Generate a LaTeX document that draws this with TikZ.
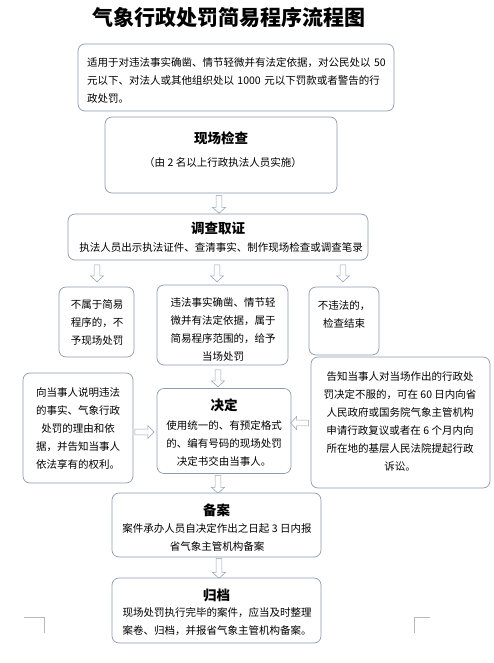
\documentclass[tikz,border=0pt]{standalone}
\usepackage{fontspec}
\setmainfont{Noto Sans CJK SC}
\usetikzlibrary{shapes.arrows}
\definecolor{boxc}{HTML}{8C9BB0}
\definecolor{arrc}{HTML}{98A6B8}
\definecolor{cropc}{HTML}{B8B8B8}
\tikzset{
  box/.style={draw=boxc, line width=0.7pt, rounded corners=7pt, fill=white, inner sep=0pt},
  body/.style={font=\fontsize{10.5}{18}\selectfont, inner sep=0pt, align=center},
  head/.style={font=\fontsize{13.5}{16}\selectfont\bfseries, inner sep=0pt},
  blockarrow/.style={single arrow, draw=arrc, fill=white, line width=0.6pt,
    inner sep=2.6pt, single arrow head extend=3.6pt, single arrow tip angle=95},
  downarrow/.style={blockarrow, shape border rotate=270, minimum height=18pt},
  rightarrow/.style={blockarrow, shape border rotate=0, minimum height=19pt},
  leftarrow/.style={blockarrow, shape border rotate=180, minimum height=18pt},
}
\begin{document}
\begin{tikzpicture}[x=1pt,y=-1pt]
\useasboundingbox (0,0) rectangle (494,663);

% title
\node[font=\fontsize{21}{24}\selectfont\bfseries, inner sep=0pt] (title) at (229,18) {气象行政处罚简易程序流程图};

% top box
\node[box, minimum width=316pt, minimum height=67pt] (scope) at (236,77.5) {};
\node[body, align=left, text width=300pt] (scopet) at (237,80.5) {适用于对违法事实确凿、情节轻微并有法定依据，对公民处以 50\\元以下、对法人或其他组织处以 1000 元以下罚款或者警告的行\\政处罚。};

% on-site inspection
\node[box, minimum width=232pt, minimum height=76pt] (check) at (221,155) {};
\node[head] (checkh) at (221,138) {现场检查};
\node[body] (checkt) at (223,163) {（由 2 名以上行政执法人员实施）};

\node[downarrow] (a1) at (219,203) {};

% investigation
\node[box, minimum width=300pt, minimum height=46pt] (inv) at (218,237) {};
\node[head] (invh) at (218,228) {调查取证};
\node[body] (invt) at (221,247) {执法人员出示执法证件、查清事实、制作现场检查或调查笔录};

\node[downarrow, minimum height=17pt] (a2) at (97,272) {};
\node[downarrow, minimum height=17pt] (a3) at (217,272) {};
\node[downarrow, minimum height=17pt] (a4) at (343,272) {};

% three outcomes
\node[box, minimum width=75pt, minimum height=70pt] (notsimple) at (96.5,322) {};
\node[body] (notsimplet) at (97,323) {不属于简易\\程序的，不\\予现场处罚};

\node[box, minimum width=131pt, minimum height=80pt] (simple) at (222.5,325) {};
\node[body] (simplet) at (223,329.5) {违法事实确凿、情节轻\\微并有法定依据，属于\\简易程序范围的，给予\\当场处罚};

\node[box, minimum width=70pt, minimum height=68pt] (legal) at (344,321) {};
\node[body] (legalt) at (344,314) {不违法的，\\检查结束};

\node[downarrow, minimum height=17pt] (a5) at (218,377) {};

% explanation (left)
\node[box, minimum width=110pt, minimum height=110pt] (explain) at (78,428) {};
\node[body] (explaint) at (78,428.5) {向当事人说明违法\\的事实、气象行政\\处罚的理由和依\\据，并告知当事人\\依法享有的权利。};

% decision
\node[box, minimum width=134pt, minimum height=85pt] (decide) at (224,431) {};
\node[head] (decideh) at (224,405) {决定};
\node[body] (decidet) at (224,443) {使用统一的、有预定格式\\的、编有号码的现场处罚\\决定书交由当事人。};

% appeal (right)
\node[box, minimum width=179pt, minimum height=131pt] (appeal) at (400.5,422.5) {};
\node[body] (appealt) at (400,421) {告知当事人对当场作出的行政处\\罚决定不服的，可在 60 日内向省\\人民政府或国务院气象主管机构\\申请行政复议或者在 6 个月内向\\所在地的基层人民法院提起行政\\诉讼。};

\node[rightarrow] (a6) at (143,432) {};
\node[leftarrow] (a7) at (301,423) {};

\node[downarrow, minimum height=18pt] (a8) at (218,483) {};

% filing
\node[box, minimum width=209pt, minimum height=64pt] (record) at (216.5,525) {};
\node[head] (recordh) at (216.5,510) {备案};
\node[body] (recordt) at (217,537.5) {案件承办人员自决定作出之日起 3 日内报\\省气象主管机构备案};

\node[downarrow, minimum height=20pt] (a9) at (219,567) {};

% archive
\node[box, minimum width=209pt, minimum height=65pt] (archive) at (216.5,610.5) {};
\node[head] (archiveh) at (216.5,595) {归档};
\node[body] (archivet) at (217,622) {现场处罚执行完毕的案件，应当及时整理\\案卷、归档，并报省气象主管机构备案。};

% crop marks
\draw[cropc, line width=0.6pt] (24,617) -- (44,617) -- (44,633);
\draw[cropc, line width=0.6pt] (430,617) -- (414,617) -- (414,633);
\end{tikzpicture}
\end{document}
